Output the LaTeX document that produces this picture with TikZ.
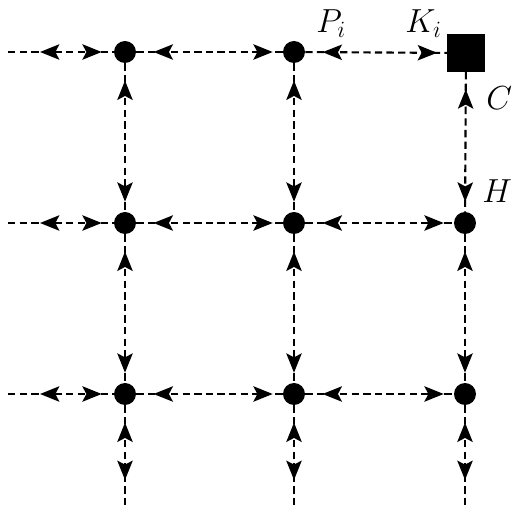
\RequirePackage{fix-cm}
\documentclass[tikz,border=0pt]{standalone}
\usetikzlibrary{arrows.meta,decorations.markings}
\tikzset{
  dot/.style={circle,fill,inner sep=0pt,minimum size=16.5pt},
  sq/.style={rectangle,fill,inner sep=0pt,minimum size=28pt},
  link/.style 2 args={dash pattern=on 5.5pt off 3.2pt, line width=1.6pt,
    postaction={decorate},
    decoration={markings,
      mark=at position #1 with {\arrowreversed{>}},
      mark=at position -#2 with {\arrow{>}}}},
  lnk/.style={link={13pt}{7.5pt}},
  lstub/.style={link={24pt}{9pt}},
  bstub/.style={link={13pt}{19.5pt}},
  lbl/.style={inner sep=0pt, anchor=base west, font=\fontsize{25}{29}\selectfont}
}
\begin{document}
\begin{tikzpicture}[x=0.75pt,y=-0.75pt,>={Stealth[length=14.5pt,width=11.5pt,inset=3pt]}]
\useasboundingbox (0,0) rectangle (512,506);
% grid nodes
\node[dot] (a1) at (125,52) {};
\node[dot] (b1) at (294,52) {};
\node[sq]  (c1) at (466,53) {};
\node[dot] (a2) at (125,223) {};
\node[dot] (b2) at (294,223) {};
\node[dot] (c2) at (465,223) {};
\node[dot] (a3) at (125,394) {};
\node[dot] (b3) at (294,394) {};
\node[dot] (c3) at (465,394) {};
% free ends
\coordinate (l1) at (8,52);
\coordinate (l2) at (8,223);
\coordinate (l3) at (8,394);
\coordinate (da) at (125,506);
\coordinate (db) at (294,506);
\coordinate (dc) at (465,506);
% horizontal connectors
\draw[lstub] (l1) -- (a1);
\draw[lstub] (l2) -- (a2);
\draw[lstub] (l3) -- (a3);
\draw[lnk] (a1) -- (b1);
\draw[lnk] (b1) -- (c1);
\draw[lnk] (a2) -- (b2);
\draw[lnk] (b2) -- (c2);
\draw[lnk] (a3) -- (b3);
\draw[lnk] (b3) -- (c3);
% vertical connectors
\draw[lnk] (a1) -- (a2);
\draw[lnk] (a2) -- (a3);
\draw[lnk] (b1) -- (b2);
\draw[lnk] (b2) -- (b3);
\draw[lnk] (c1) -- (c2);
\draw[lnk] (c2) -- (c3);
\draw[bstub] (a3) -- (da);
\draw[bstub] (b3) -- (db);
\draw[bstub] (c3) -- (dc);
% labels
\node[lbl] (P) at (316,33) {$P_i$};
\node[lbl] (K) at (405,33) {$K_i$};
\node[lbl] (C) at (486,110) {$C$};
\node[lbl] (H) at (482,203) {$H$};
\end{tikzpicture}
\end{document}
